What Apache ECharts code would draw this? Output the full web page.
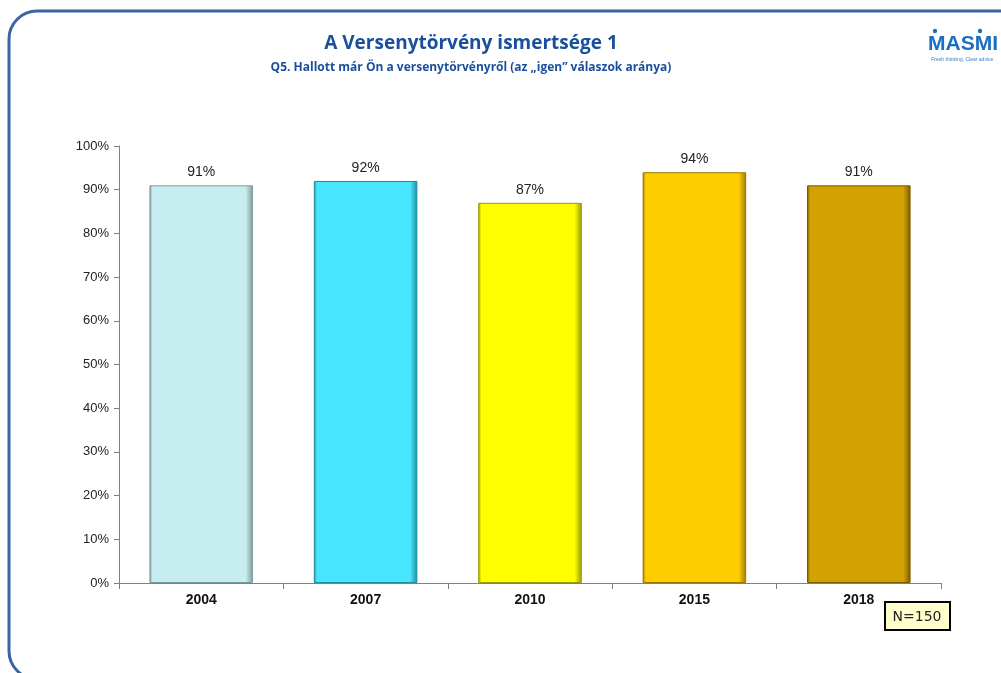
<!DOCTYPE html>
<html>
<head>
<meta charset="utf-8">
<script src="https://cdn.jsdelivr.net/npm/echarts@6/dist/echarts.min.js"></script>
<style>
html,body{margin:0;padding:0;background:#fff;}
#c{width:1001px;height:673px;}
</style>
</head>
<body>
<div id="c"></div>
<script>
var categories = ['2004', '2007', '2010', '2015', '2018'];
var values = [91, 92, 87, 94, 91];
var barColors = ['#c6edef', '#48e5fe', '#ffff00', '#ffcc00', '#d4a102'];
var edgeColors = ['#7f9a9c', '#1d8da0', '#9a9a00', '#9a7a00', '#7a5c00'];
var yTicks = [0, 10, 20, 30, 40, 50, 60, 70, 80, 90, 100];

var chart = echarts.init(document.getElementById('c'), null, {renderer: 'canvas'});

var data = values.map(function (v, i) {
  return {
    value: v,
    itemStyle: {
      color: new echarts.graphic.LinearGradient(0, 0, 1, 0, [
        {offset: 0, color: edgeColors[i]},
        {offset: 0.03, color: barColors[i]},
        {offset: 0.93, color: barColors[i]},
        {offset: 1, color: edgeColors[i]}
      ]),
      borderColor: edgeColors[i],
      borderWidth: 1
    }
  };
});

chart.setOption({
  animation: false,
  graphic: [
    {type: 'rect', shape: {x: 9, y: 11, width: 1020, height: 668, r: 28},
     style: {fill: 'none', stroke: '#3b64a2', lineWidth: 3}},
    {type: 'text', x: 471, y: 44, style: {text: 'A Versenytörvény ismertsége 1', fill: '#1a4f9c',
      font: 'bold 19px "Open Sans", Arial, sans-serif', textAlign: 'center', textVerticalAlign: 'middle'}},
    {type: 'text', x: 471, y: 68, style: {text: 'Q5. Hallott már Ön a versenytörvényről (az „igen” válaszok aránya)', fill: '#1a4f9c',
      font: 'bold 12px "Open Sans", Arial, sans-serif', textAlign: 'center', textVerticalAlign: 'middle'}},
    {type: 'text', x: 963, y: 44, style: {text: 'MASMI', fill: '#1a6fc0',
      font: 'bold 21px "Liberation Sans Narrow", Arial, sans-serif', textAlign: 'center', textVerticalAlign: 'middle'}},
    {type: 'circle', shape: {cx: 935, cy: 31, r: 2.2}, style: {fill: '#1a6fc0'}},
    {type: 'circle', shape: {cx: 980, cy: 31, r: 2.2}, style: {fill: '#1a6fc0'}},
    {type: 'text', x: 963, y: 60, style: {text: 'Fresh thinking. Clear advice.', fill: '#3a7fc8',
      font: '5px Arial, sans-serif', textAlign: 'center', textVerticalAlign: 'middle'}},
    {type: 'rect', shape: {x: 885, y: 602, width: 65, height: 28},
     style: {fill: '#ffffcc', stroke: '#000', lineWidth: 2}},
    {type: 'text', x: 917, y: 617, style: {text: 'N=150', fill: '#222',
      font: '14px "DejaVu Sans", Arial, sans-serif', textAlign: 'center', textVerticalAlign: 'middle'}}
  ],
  grid: {left: 119, right: 60, top: 146, bottom: 90, containLabel: false},
  xAxis: {
    type: 'category',
    data: categories,
    axisLine: {lineStyle: {color: '#808080', width: 1}},
    axisTick: {show: true, length: 6, lineStyle: {color: '#808080'}},
    axisLabel: {color: '#111', fontWeight: 'bold', fontSize: 14, fontFamily: 'Arial, "Liberation Sans", sans-serif', margin: 10}
  },
  yAxis: {
    type: 'value',
    min: yTicks[0],
    max: yTicks[yTicks.length - 1],
    interval: 10,
    axisLine: {show: true, lineStyle: {color: '#808080'}},
    axisTick: {show: true, length: 5, inside: false, lineStyle: {color: '#808080'}},
    splitLine: {show: false},
    axisLabel: {color: '#222', fontSize: 13, fontFamily: 'Arial, "Liberation Sans", sans-serif', margin: 10,
      formatter: function (v) { return v + '%'; }}
  },
  series: [{
    type: 'bar',
    data: data,
    barWidth: '63%',
    label: {show: true, position: 'top', distance: 6, color: '#222', fontSize: 14,
      fontFamily: 'Arial, "Liberation Sans", sans-serif', formatter: '{c}%'}
  }]
});
</script>
</body>
</html>
